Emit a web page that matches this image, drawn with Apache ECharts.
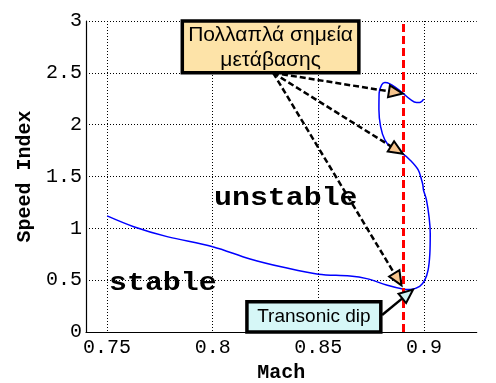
<!DOCTYPE html>
<html>
<head>
<meta charset="utf-8">
<script src="https://cdn.jsdelivr.net/npm/echarts@6/dist/echarts.min.js"></script>
<style>
html,body{margin:0;padding:0;background:#fff;}
#chart{width:496px;height:383px;}
</style>
</head>
<body>
<div id="chart"></div>
<script>
// ---- data ----
const machValues = [0.75, 0.7626, 0.7784, 0.8, 0.8177, 0.8335, 0.85, 0.865, 0.8729, 0.8823, 0.89, 0.8935, 0.898, 0.9004, 0.902, 0.9028, 0.903, 0.9025, 0.9012, 0.8998, 0.8995, 0.8989, 0.8973, 0.8934, 0.89, 0.8847, 0.8815, 0.8795, 0.8787, 0.8788, 0.88, 0.8815, 0.8839, 0.887, 0.89, 0.8934, 0.8965, 0.898, 0.8999];
const speedValues = [1.12, 1.016, 0.92, 0.823, 0.705, 0.624, 0.557, 0.54, 0.515, 0.454, 0.415, 0.41, 0.44, 0.50, 0.60, 0.75, 0.95, 1.1, 1.274, 1.37, 1.42, 1.467, 1.564, 1.66, 1.718, 1.773, 1.853, 1.982, 2.143, 2.304, 2.384, 2.406, 2.394, 2.352, 2.304, 2.246, 2.213, 2.213, 2.246];
const xTickValues = [0.75, 0.8, 0.85, 0.9];
const transitionMach = 0.89;

const noteText = 'Πολλαπλά σημεία\nμετάβασης';
const noteBoxMach = [0.7856, 0.8692];
const noteBoxSpeed = [2.5, 3.0];
const noteArrowFrom = [0.8286, 2.5];
const noteArrowMach = [0.89, 0.89, 0.8894];
const noteArrowSpeed = [2.30, 1.72, 0.45];

const dipText = 'Transonic dip';
const dipBoxMach = [0.8162, 0.8796];
const dipBoxSpeed = [0, 0.292];
const dipArrowFrom = [0.8802, 0.164];
const dipArrowTo = [0.8949, 0.41];

const regionLabels = ['unstable', 'stable'];
const regionMach = [0.8346, 0.7764];
const regionSpeed = [1.284, 0.473];

// ---- chart ----
const chart = echarts.init(document.getElementById('chart'), null, {renderer: 'canvas'});
const mono = '"Liberation Mono", "Courier New", monospace';
const sans = '"Liberation Sans", Arial, sans-serif';

chart.setOption({
  animation: false,
  backgroundColor: '#ffffff',
  grid: {left: 86, right: 19.3, top: 21, bottom: 51, outerBoundsMode: 'none'},
  xAxis: {
    type: 'value', min: 0.74, max: 0.925,
    name: 'Mach', nameLocation: 'middle', nameGap: 21,
    nameTextStyle: {fontFamily: mono, fontWeight: 'bold', fontSize: 20, color: '#000'},
    axisLine: {show: true, onZero: false, lineStyle: {color: '#000', width: 1.2}},
    axisTick: {show: false, customValues: xTickValues},
    axisLabel: {customValues: xTickValues, fontFamily: mono, fontSize: 20, color: '#000', margin: 6},
    splitLine: {show: true, lineStyle: {color: '#000', width: 1, type: [1, 2]}}
  },
  yAxis: {
    type: 'value', min: 0, max: 3, interval: 0.5,
    name: 'Speed Index', nameLocation: 'middle', nameGap: 46,
    nameTextStyle: {fontFamily: mono, fontWeight: 'bold', fontSize: 20, color: '#000'},
    axisLine: {show: true, onZero: false, lineStyle: {color: '#000', width: 1.2}},
    axisTick: {show: false},
    axisLabel: {fontFamily: mono, fontSize: 20, color: '#000', margin: 4},
    splitLine: {show: true, lineStyle: {color: '#000', width: 1, type: [1, 2]}}
  },
  series: [{
    type: 'line',
    data: machValues.map((m, i) => [m, speedValues[i]]),
    showSymbol: false,
    smooth: 0.35,
    lineStyle: {color: '#0000ff', width: 1.5},
    z: 3,
    markLine: {
      silent: true, symbol: ['none', 'none'],
      label: {show: false},
      lineStyle: {color: '#ff0000', width: 3, type: [8, 4]},
      data: [{xAxis: transitionMach}]
    }
  }]
});

function px(m, s) { return chart.convertToPixel({gridIndex: 0}, [m, s]); }

function arrow(from, to, dashed, fill) {
  const dx = to[0] - from[0], dy = to[1] - from[1];
  const len = Math.sqrt(dx * dx + dy * dy);
  const ux = dx / len, uy = dy / len;
  const L = 14, W = 6;
  const bx = to[0] - ux * L, by = to[1] - uy * L;
  const nx = -uy, ny = ux;
  return [
    {type: 'line', z: 20, shape: {x1: from[0], y1: from[1], x2: bx, y2: by},
     style: {stroke: '#000', lineWidth: 2.5, lineDash: dashed ? [6, 3] : null}},
    {type: 'polygon', z: 21, shape: {points: [[to[0], to[1]], [bx + nx * W, by + ny * W], [bx - nx * W, by - ny * W]]},
     style: {fill: fill, stroke: '#000', lineWidth: 2}}
  ];
}

const g = [];
// note box
const n1 = px(noteBoxMach[0], noteBoxSpeed[1]);
const n2 = px(noteBoxMach[1], noteBoxSpeed[0]);
const nFrom = px(noteArrowFrom[0], noteArrowFrom[1]);
noteArrowMach.forEach((m, i) => {
  g.push(...arrow(nFrom, px(m, noteArrowSpeed[i]), true, '#f7c58e'));
});
g.push({type: 'rect', z: 30, shape: {x: n1[0], y: n1[1], width: n2[0] - n1[0], height: n2[1] - n1[1]},
  style: {fill: '#fde3a8', stroke: '#000', lineWidth: 3.5}});
g.push({type: 'text', z: 31, x: (n1[0] + n2[0]) / 2, y: (n1[1] + n2[1]) / 2 + 1,
  style: {text: noteText, font: '21px ' + sans, fill: '#000', align: 'center', verticalAlign: 'middle', lineHeight: 25}});

// dip box
const d1 = px(dipBoxMach[0], dipBoxSpeed[1]);
const d2 = px(dipBoxMach[1], dipBoxSpeed[0]);
g.push(...arrow(px(dipArrowFrom[0], dipArrowFrom[1]), px(dipArrowTo[0], dipArrowTo[1]), false, '#cdf3f3'));
g.push({type: 'rect', z: 30, shape: {x: d1[0], y: d1[1], width: d2[0] - d1[0], height: d2[1] - d1[1]},
  style: {fill: '#d6f7f7', stroke: '#000', lineWidth: 3.5}});
g.push({type: 'text', z: 31, x: (d1[0] + d2[0]) / 2, y: (d1[1] + d2[1]) / 2,
  style: {text: dipText, font: '19px ' + sans, fill: '#000', align: 'center', verticalAlign: 'middle'}});

// region labels
regionLabels.forEach((t, i) => {
  const p = px(regionMach[i], regionSpeed[i]);
  g.push({type: 'text', z: 25, x: p[0], y: p[1], scaleX: 1.15,
    style: {text: t, font: 'bold 26px ' + mono, fill: '#000', align: 'center', verticalAlign: 'middle'}});
});

chart.setOption({graphic: g});
</script>
</body>
</html>
